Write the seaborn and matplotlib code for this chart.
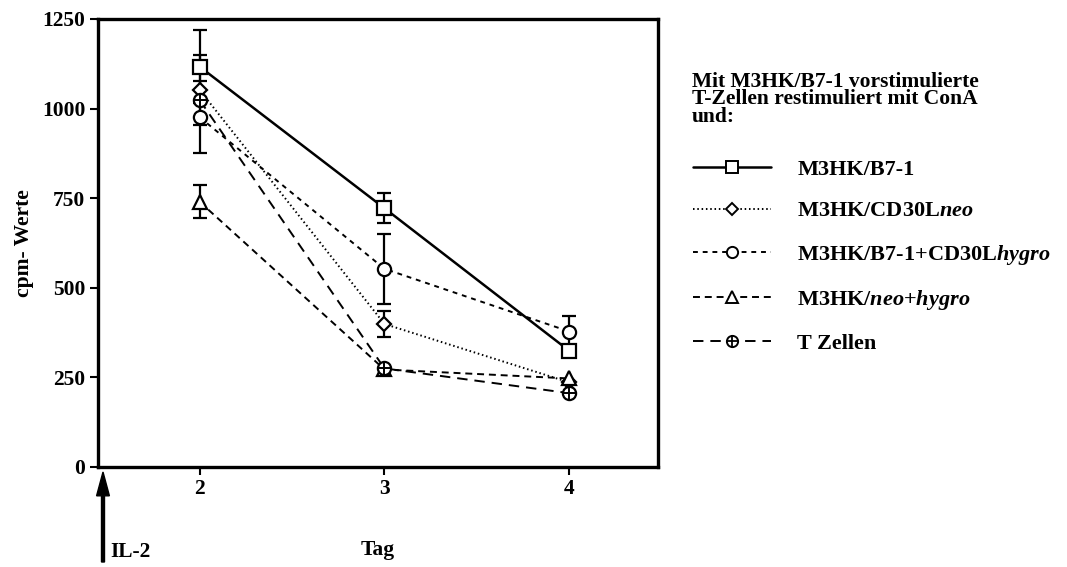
import matplotlib
matplotlib.use("Agg")
import matplotlib.pyplot as plt
import numpy as np
import pandas as pd
import seaborn as sns
from matplotlib.lines import Line2D
from matplotlib.legend_handler import HandlerTuple

# Proliferation (cpm) of pre-stimulated T cells, restimulated with ConA
tage = [2, 3, 4]
b71 = [1117, 722, 324]
b71_err = [102, 42, 0]
cd30l_neo = [1052, 399, 236]
cd30l_neo_err = [98, 37, 0]
b71_cd30l_hygro = [976, 553, 378]
b71_cd30l_hygro_err = [100, 98, 43]
neo_hygro = [740, 272, 247]
neo_hygro_err = [46, 0, 0]
t_zellen = [1024, 275, 206]
t_zellen_err = [0, 0, 0]

labels = [
    "M3HK/B7-1",
    r"M3HK/CD30L$\mathit{neo}$",
    r"M3HK/B7-1+CD30L$\mathit{hygro}$",
    r"M3HK/$\mathit{neo}$+$\mathit{hygro}$",
    "T Zellen",
]
y_ticks = [0, 250, 500, 750, 1000, 1250]
x_ticks = [2, 3, 4]

sns.set_style("ticks")
plt.rcParams["font.family"] = ["Liberation Serif", "DejaVu Serif"]
plt.rcParams["font.weight"] = "bold"
plt.rcParams["mathtext.fontset"] = "custom"
plt.rcParams["mathtext.rm"] = "Liberation Serif:bold"
plt.rcParams["mathtext.bf"] = "Liberation Serif:bold"
plt.rcParams["mathtext.it"] = "Liberation Serif:italic:bold"
plt.rcParams["lines.scale_dashes"] = False
plt.rcParams["axes.edgecolor"] = "black"
plt.rcParams["xtick.color"] = "black"
plt.rcParams["ytick.color"] = "black"
plt.rcParams["text.color"] = "black"
plt.rcParams["axes.labelcolor"] = "black"

fig = plt.figure(figsize=(10.67, 5.67), dpi=100)
ax = fig.add_axes([0.0918, 0.1764, 0.5249, 0.7901])

series = [
    (b71, b71_err, "s", "-", 1.8),
    (cd30l_neo, cd30l_neo_err, "D", (0, (1.1, 2.0)), 1.4),
    (b71_cd30l_hygro, b71_cd30l_hygro_err, "o", (0, (3.5, 3.5)), 1.4),
    (neo_hygro, neo_hygro_err, "^", (0, (5.0, 3.5)), 1.4),
    (t_zellen, t_zellen_err, "o", (0, (7.5, 5.0)), 1.4),
]
msize = {"s": 9.5, "D": 7.5, "o": 9.5, "^": 9.5}

handles = []
for vals, errs, mk, ls, lw in series:
    df = pd.DataFrame({"Tag": tage, "cpm": vals, "err": errs})
    sub = df[df["err"] > 0]
    ax.errorbar(sub["Tag"], sub["cpm"], yerr=sub["err"], fmt="none",
                ecolor="black", elinewidth=1.6, capsize=5, capthick=1.6,
                zorder=2)
    sns.lineplot(data=df, x="Tag", y="cpm", ax=ax, color="black",
                 linestyle=ls, linewidth=lw, marker=mk, markersize=msize[mk],
                 markerfacecolor="white", markeredgecolor="black",
                 markeredgewidth=1.6, zorder=3)
    h = Line2D([], [], color="black", linestyle=ls, linewidth=lw, marker=mk,
               markersize=msize[mk] * 0.85, markerfacecolor="white",
               markeredgecolor="black", markeredgewidth=1.4)
    handles.append(h)

# cross inside the T Zellen circles
ax.plot(tage, t_zellen, linestyle="none", marker="+", markersize=9.5,
        markeredgewidth=1.4, color="black", zorder=4)
plus = Line2D([], [], linestyle="none", marker="+",
              markersize=9.5 * 0.85, markeredgewidth=1.3, color="black")
handles[-1] = (handles[-1], plus)

ax.set_xlim(1.45, 4.48)
ax.set_ylim(0, 1250)
ax.set_xticks(x_ticks)
ax.set_yticks(y_ticks)
ax.tick_params(direction="out", length=6, width=1.5, labelsize=15.5, pad=3,
               colors="black")
for s in ax.spines.values():
    s.set_linewidth(2.4)
    s.set_color("black")
    s.set_visible(True)
for lab in ax.get_xticklabels() + ax.get_yticklabels():
    lab.set_fontweight("bold")

ax.set_xlabel("Tag", fontsize=15.5, fontweight="bold", labelpad=29)
ax.set_ylabel("cpm- Werte", fontsize=15.5, fontweight="bold", labelpad=6)

# IL-2 arrow at the origin of the time axis
fig.patches.append(matplotlib.patches.FancyArrow(
    103 / 1067, 1 - 562 / 567, 0, (562 - 472) / 567, width=0.0028,
    head_width=0.012, head_length=0.042, length_includes_head=True,
    color="black", transform=fig.transFigure, figure=fig))
fig.text(110 / 1067, 1 - 552 / 567, "IL-2", fontsize=15.5, fontweight="bold",
         ha="left", va="center")

fig.text(692 / 1067, 1 - 72 / 567,
         "Mit M3HK/B7-1 vorstimulierte\nT-Zellen restimuliert mit ConA\nund:",
         fontsize=15.5, fontweight="bold", ha="left", va="top",
         linespacing=0.83)

fig.legend(handles, labels, loc="upper left",
           bbox_to_anchor=(693 / 1067, 1 - 159 / 567),
           bbox_transform=fig.transFigure, frameon=False, borderpad=0,
           borderaxespad=0, handlelength=3.5, handletextpad=1.2,
           labelspacing=0.96, numpoints=1,
           prop={"weight": "bold", "size": 16},
           handler_map={tuple: HandlerTuple(ndivide=1, pad=0)})

fig.savefig("out.png", dpi=100)
